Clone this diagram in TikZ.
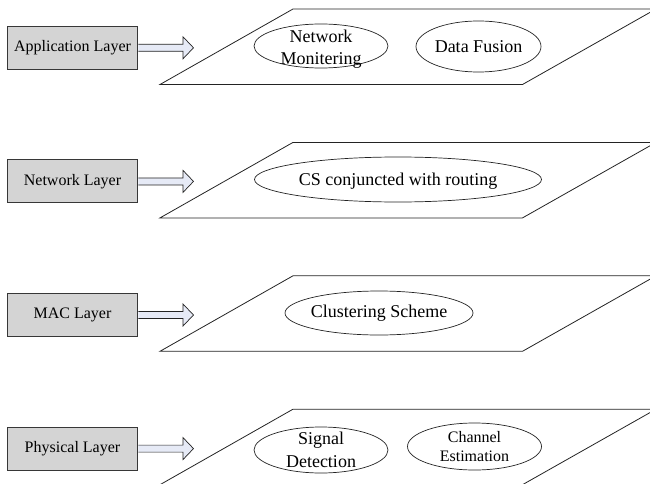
\documentclass[tikz,border=0pt]{standalone}
\usepackage{fontspec}
\setmainfont{Liberation Serif}
\usetikzlibrary{shapes.geometric}
\definecolor{boxfill}{RGB}{212,212,212}
\definecolor{boxline}{RGB}{55,55,55}
\definecolor{arrowfill}{RGB}{230,234,246}
\definecolor{inkline}{RGB}{35,35,35}
\begin{document}
\begin{tikzpicture}[x=1pt,y=-1pt,
  layerbox/.style={draw=boxline, line width=0.9pt, fill=boxfill, minimum width=130pt, minimum height=43pt, inner sep=0pt, font=\fontsize{16}{19}\selectfont},
  blockarrow/.style={draw=inkline, line width=0.7pt, fill=arrowfill, line join=miter},
  plane/.style={draw=inkline, line width=0.8pt},
  oval/.style={draw=inkline, line width=0.7pt, ellipse, inner sep=0pt},
  ovaltext/.style={align=center, inner sep=0pt, font=\fontsize{18}{22.5}\selectfont},
  smalltext/.style={align=center, inner sep=0pt, font=\fontsize{16}{19}\selectfont}
]
\useasboundingbox (0,0) rectangle (650,484);
\clip (0,0) rectangle (650,484);

% planes
\draw[plane] (293,9) -- (656,9) -- (522.5,84.5) -- (160,84.5) -- cycle;
\draw[plane] (293,142.4) -- (656,142.4) -- (522.5,217.9) -- (160,217.9) -- cycle;
\draw[plane] (293,275.8) -- (656,275.8) -- (522.5,351.3) -- (160,351.3) -- cycle;
\draw[plane] (293,409.2) -- (656,409.2) -- (522.5,484.7) -- (160,484.7) -- cycle;

% layer boxes
\node[layerbox] (b1) at (72.5,47.8) {Application Layer};
\node[layerbox] (b2) at (72.5,181.4) {Network Layer};
\node[layerbox] (b3) at (72.5,315) {MAC Layer};
\node[layerbox] (b4) at (72.5,448.6) {Physical Layer};

% arrow tips
\coordinate (t1) at (193.5,47.8);
\coordinate (t2) at (193.5,181.4);
\coordinate (t3) at (193.5,315);
\coordinate (t4) at (193.5,448.6);

\foreach \i in {1,2,3,4}{
  \draw[blockarrow] ([xshift=0.5pt,yshift=3.5pt]b\i.east) -- ([xshift=-10.5pt,yshift=3.5pt]t\i) -- ([xshift=-10.5pt,yshift=11pt]t\i) -- (t\i) -- ([xshift=-10.5pt,yshift=-11pt]t\i) -- ([xshift=-10.5pt,yshift=-3.5pt]t\i) -- ([xshift=0.5pt,yshift=-3.5pt]b\i.east);
}

% ellipses
\node[oval, minimum width=134pt, minimum height=44pt] (nm) at (321,46) {};
\node[ovaltext] (nmt) at ([yshift=-3pt]nm.center) {Network\\Monitering};
\node[oval, minimum width=125pt, minimum height=51pt] (df) at (478.5,46.5) {};
\node[ovaltext] (dft) at (df.center) {Data Fusion};

\node[oval, minimum width=287pt, minimum height=45pt] (cs) at (398,179.5) {};
\node[ovaltext] (cst) at ([yshift=-2pt]cs.center) {CS conjuncted with routing};

\node[oval, minimum width=188pt, minimum height=44pt] (cl) at (379,313) {};
\node[ovaltext] (clt) at (cl.center) {Clustering Scheme};

\node[oval, minimum width=134pt, minimum height=46pt] (sd) at (321,450) {};
\node[ovaltext] (sdt) at (sd.center) {Signal\\Detection};
\node[oval, minimum width=134pt, minimum height=47pt] (ce) at (474.5,446.5) {};
\node[smalltext] (cet) at (ce.center) {Channel\\Estimation};
\end{tikzpicture}
\end{document}
